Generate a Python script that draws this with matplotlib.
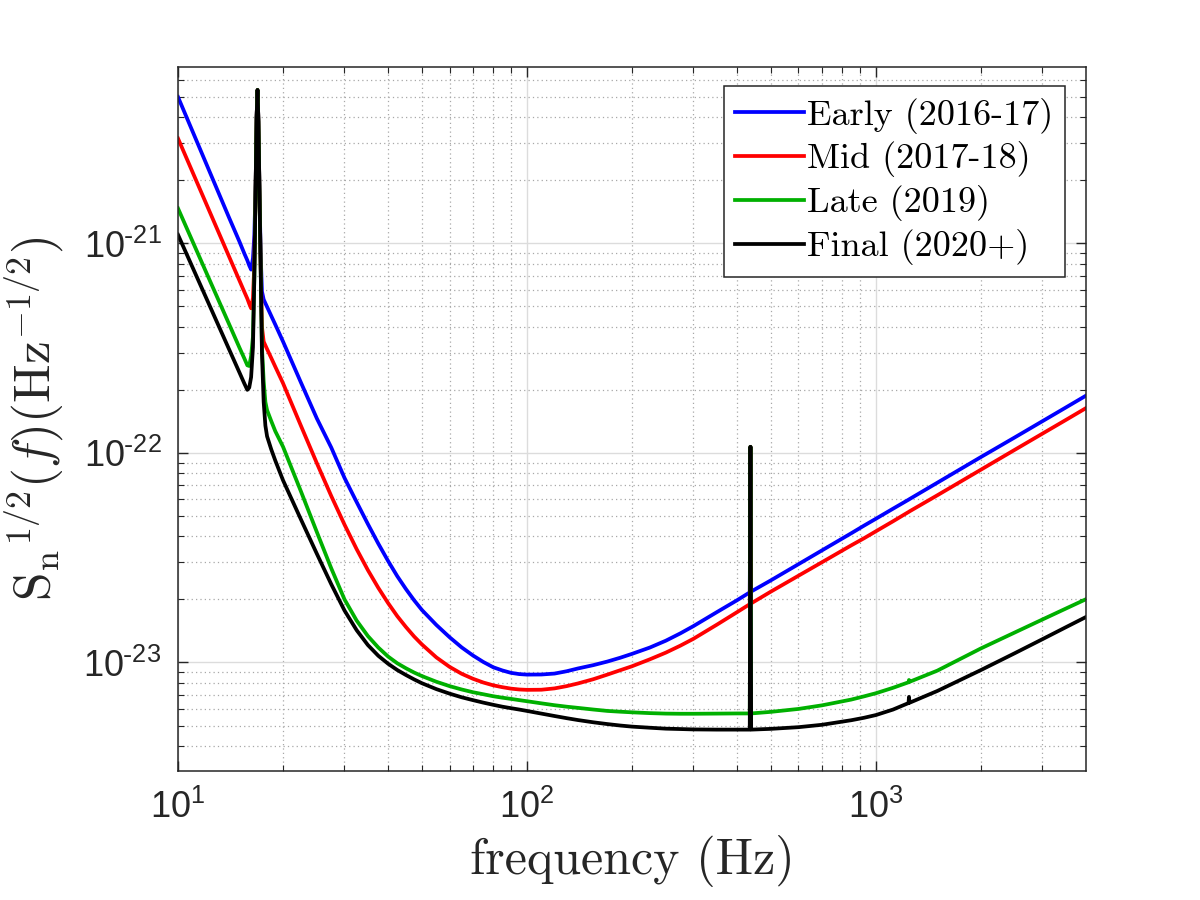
import numpy as np
import matplotlib
matplotlib.use('Agg')
import matplotlib.pyplot as plt
from matplotlib.ticker import FuncFormatter, FixedLocator, NullFormatter

plt.rcParams['mathtext.fontset'] = 'cm'
plt.rcParams['font.family'] = ['Liberation Sans', 'DejaVu Sans']

# frequency grid (Hz)
freq = np.array([10, 12, 14, 15, 15.5, 15.8, 16.0, 16.2, 16.4, 16.55, 16.7, 16.8, 16.9, 17.0,
                 17.1, 17.25, 17.4, 17.6, 17.8, 18, 18.5, 19, 20, 22.5, 25, 27.5, 30, 32.5,
                 35, 37.5, 40, 42.5, 45, 47.5, 50, 55, 60, 65, 70, 75, 80, 85, 90, 95, 100,
                 110, 120, 130, 140, 155, 170, 185, 200, 225, 250, 275, 300, 350, 400, 435,
                 437, 439, 500, 600, 700, 850, 925, 1000, 1120, 1240, 1244, 1248, 1500, 2000,
                 2500, 3000, 3500, 4000])

# amplitude spectral densities (1/sqrt(Hz))
early = np.array([5.0e-21, 2.44e-21, 1.33e-21, 1.02e-21, 8.93e-22, 8.3e-22, 7.85e-22, 7.5e-22,
                  8.5e-22, 1.1e-21, 2.0e-21, 4.0e-21, 5.4e-21, 3.8e-21,
                  2.0e-21, 9.0e-22, 5.9e-22, 5.4e-22, 5.18e-22, 4.98e-22, 4.51e-22, 4.10e-22,
                  3.40e-22, 2.17e-22, 1.46e-22, 1.06e-22, 7.6e-23, 5.83e-23,
                  4.58e-23, 3.69e-23, 3.05e-23, 2.58e-23, 2.24e-23, 1.98e-23, 1.78e-23,
                  1.51e-23, 1.32e-23, 1.18e-23, 1.08e-23, 1.005e-23, 9.49e-24, 9.16e-24,
                  8.92e-24, 8.80e-24, 8.75e-24,
                  8.76e-24, 8.85e-24, 9.08e-24, 9.36e-24, 9.71e-24, 1.01e-23, 1.053e-23,
                  1.099e-23, 1.178e-23, 1.27e-23, 1.376e-23, 1.491e-23, 1.738e-23, 1.981e-23,
                  2.16e-23,
                  1.07e-22, 2.18e-23, 2.465e-23, 2.945e-23, 3.424e-23, 4.137e-23, 4.50e-23,
                  4.852e-23, 5.42e-23, 5.98e-23, 6.0e-23, 6.02e-23, 7.21e-23, 9.56e-23,
                  1.186e-22, 1.417e-22, 1.647e-22, 1.877e-22])

mid = np.array([3.17e-21, 1.57e-21, 8.67e-22, 6.65e-22, 5.86e-22, 5.45e-22, 5.15e-22, 4.9e-22,
                5.5e-22, 8.0e-22, 2.0e-21, 4.0e-21, 5.4e-21, 3.8e-21,
                2.0e-21, 8.0e-22, 4.0e-22, 3.4e-22, 3.26e-22, 3.13e-22, 2.84e-22, 2.58e-22,
                2.15e-22, 1.349e-22, 8.93e-23, 6.22e-23, 4.55e-23, 3.475e-23,
                2.76e-23, 2.27e-23, 1.92e-23, 1.663e-23, 1.476e-23, 1.33e-23, 1.219e-23,
                1.057e-23, 9.53e-24, 8.83e-24, 8.36e-24, 8.02e-24, 7.78e-24, 7.62e-24,
                7.50e-24, 7.43e-24, 7.40e-24,
                7.41e-24, 7.52e-24, 7.71e-24, 7.94e-24, 8.32e-24, 8.75e-24, 9.18e-24,
                9.59e-24, 1.035e-23, 1.114e-23, 1.202e-23, 1.297e-23, 1.514e-23, 1.738e-23,
                1.897e-23,
                1.07e-22, 1.914e-23, 2.178e-23, 2.594e-23, 3.006e-23, 3.622e-23, 3.917e-23,
                4.227e-23, 4.72e-23, 5.224e-23, 5.24e-23, 5.26e-23, 6.28e-23, 8.32e-23,
                1.035e-22, 1.236e-22, 1.436e-22, 1.637e-22])

late = np.array([1.47e-21, 7.38e-22, 4.13e-22, 3.18e-22, 2.82e-22, 2.62e-22, 2.6e-22, 2.9e-22,
                 3.6e-22, 7.0e-22, 2.0e-21, 4.0e-21, 5.4e-21, 3.8e-21,
                 2.0e-21, 8.0e-22, 3.2e-22, 2.2e-22, 1.75e-22, 1.6e-22, 1.42e-22, 1.27e-22,
                 1.07e-22, 6.56e-23, 4.19e-23, 2.81e-23, 2.0e-23, 1.585e-23,
                 1.337e-23, 1.178e-23, 1.067e-23, 9.91e-24, 9.38e-24, 8.95e-24, 8.61e-24,
                 8.09e-24, 7.71e-24, 7.43e-24, 7.21e-24, 7.05e-24, 6.90e-24, 6.79e-24,
                 6.70e-24, 6.61e-24, 6.53e-24,
                 6.38e-24, 6.25e-24, 6.15e-24, 6.07e-24, 5.96e-24, 5.87e-24, 5.82e-24,
                 5.78e-24, 5.73e-24, 5.70e-24, 5.69e-24, 5.69e-24, 5.70e-24, 5.71e-24,
                 5.71e-24,
                 1.07e-22, 5.71e-24, 5.81e-24, 6.0e-24, 6.24e-24, 6.65e-24, 6.89e-24,
                 7.13e-24, 7.57e-24, 8.04e-24, 8.25e-24, 8.08e-24, 9.14e-24, 1.167e-23,
                 1.39e-23, 1.603e-23, 1.807e-23, 2.004e-23])

final = np.array([1.1e-21, 5.57e-22, 3.13e-22, 2.42e-22, 2.14e-22, 2.0e-22, 2.05e-22, 2.3e-22,
                  3.2e-22, 7.0e-22, 2.0e-21, 4.0e-21, 5.4e-21, 3.8e-21,
                  2.0e-21, 8.0e-22, 3.0e-22, 1.75e-22, 1.35e-22, 1.2e-22, 1.04e-22, 9.2e-23,
                  7.4e-23, 4.82e-23, 3.30e-23, 2.36e-23, 1.77e-23, 1.426e-23,
                  1.211e-23, 1.076e-23, 9.86e-24, 9.20e-24, 8.71e-24, 8.30e-24, 7.96e-24,
                  7.46e-24, 7.10e-24, 6.82e-24, 6.61e-24, 6.43e-24, 6.28e-24, 6.15e-24,
                  6.05e-24, 5.96e-24, 5.87e-24,
                  5.70e-24, 5.55e-24, 5.42e-24, 5.31e-24, 5.18e-24, 5.08e-24, 5.00e-24,
                  4.94e-24, 4.88e-24, 4.83e-24, 4.81e-24, 4.79e-24, 4.78e-24, 4.78e-24,
                  4.78e-24,
                  1.07e-22, 4.78e-24, 4.82e-24, 4.91e-24, 5.04e-24, 5.30e-24, 5.445e-24,
                  5.61e-24, 5.96e-24, 6.40e-24, 6.85e-24, 6.42e-24, 7.31e-24, 9.20e-24,
                  1.107e-23, 1.291e-23, 1.472e-23, 1.648e-23])

labels = ['Early (2016-17)', 'Mid (2017-18)', 'Late (2019)', 'Final (2020+)']
colors = ['#0000ff', '#ff0000', '#00b000', '#000000']

x_major = [10, 100, 1000]
y_major = [1e-23, 1e-22, 1e-21]

W, H = 1200, 900
fig = plt.figure(figsize=(12, 9), dpi=100)
ax = fig.add_axes([178 / W, (H - 770.5) / H, (1086 - 178) / W, (770.5 - 67) / H])

for y, lab, c in zip([early, mid, late, final], labels, colors):
    ax.loglog(freq, y, color=c, lw=2.7, label=lab, solid_joinstyle='round')

xlo, xhi = 10, 4000
ylo, yhi = 3.05e-24, 6.95e-21
ax.set_xlim(xlo, xhi)
ax.set_ylim(ylo, yhi)

# matlab-ish grid
ax.grid(True, which='major', color='#dcdcdc', lw=1.0, ls='-')
ax.grid(True, which='minor', color='#a8a8a8', lw=0.9, ls=(0, (1, 2.5)))
ax.set_axisbelow(True)

# only ticks that are inside the view
xminor = [m * 10.0 ** k for k in range(1, 4) for m in range(2, 10)]
xminor = [v for v in xminor if xlo < v < xhi]
yminor = [m * 10.0 ** k for k in range(-24, -20) for m in range(2, 10)]
yminor = [v for v in yminor if ylo < v < yhi]
ax.xaxis.set_major_locator(FixedLocator(x_major))
ax.xaxis.set_minor_locator(FixedLocator(xminor))
ax.yaxis.set_major_locator(FixedLocator(y_major))
ax.yaxis.set_minor_locator(FixedLocator(yminor))


def pow_label(v, pos):
    e = int(round(np.log10(v)))
    if e < 0:
        return r'$\mathregular{10^{\text{-}%d}}$' % (-e)
    return r'$\mathregular{10^{%d}}$' % e


ax.xaxis.set_major_formatter(FuncFormatter(pow_label))
ax.yaxis.set_major_formatter(FuncFormatter(pow_label))
ax.xaxis.set_minor_formatter(NullFormatter())
ax.yaxis.set_minor_formatter(NullFormatter())

ax.tick_params(which='both', direction='in', top=True, right=True, colors='#262626')
ax.tick_params(which='major', length=7, width=1.0)
ax.tick_params(which='minor', length=4, width=0.8)
ax.tick_params(axis='x', which='major', labelsize=26, pad=14)
ax.tick_params(axis='y', which='major', labelsize=26, pad=12)
for s in ax.spines.values():
    s.set_color('#262626')
    s.set_linewidth(1.1)

ax.set_xlabel('frequency (Hz)', fontfamily='cmr10', fontsize=36, color='#262626')
ax.xaxis.set_label_coords(0.5, -(835 - 770.5) / 703.5)
ax.set_ylabel(r'$\mathrm{S_n}^{1/2}(f)(\mathrm{Hz}^{-1/2})$', fontsize=37, color='#262626')
ax.yaxis.set_label_coords((66 - 178) / 908, 0.5)

leg = ax.legend(loc='upper right', bbox_to_anchor=(0.977, 0.973), borderaxespad=0,
                prop={'family': 'cmr10', 'size': 26}, fancybox=False, framealpha=1,
                edgecolor='#262626', handlelength=1.9, handletextpad=0.1,
                labelspacing=0.22, borderpad=0.32)
leg.get_frame().set_linewidth(1.1)

fig.savefig('out.png', dpi=100)
